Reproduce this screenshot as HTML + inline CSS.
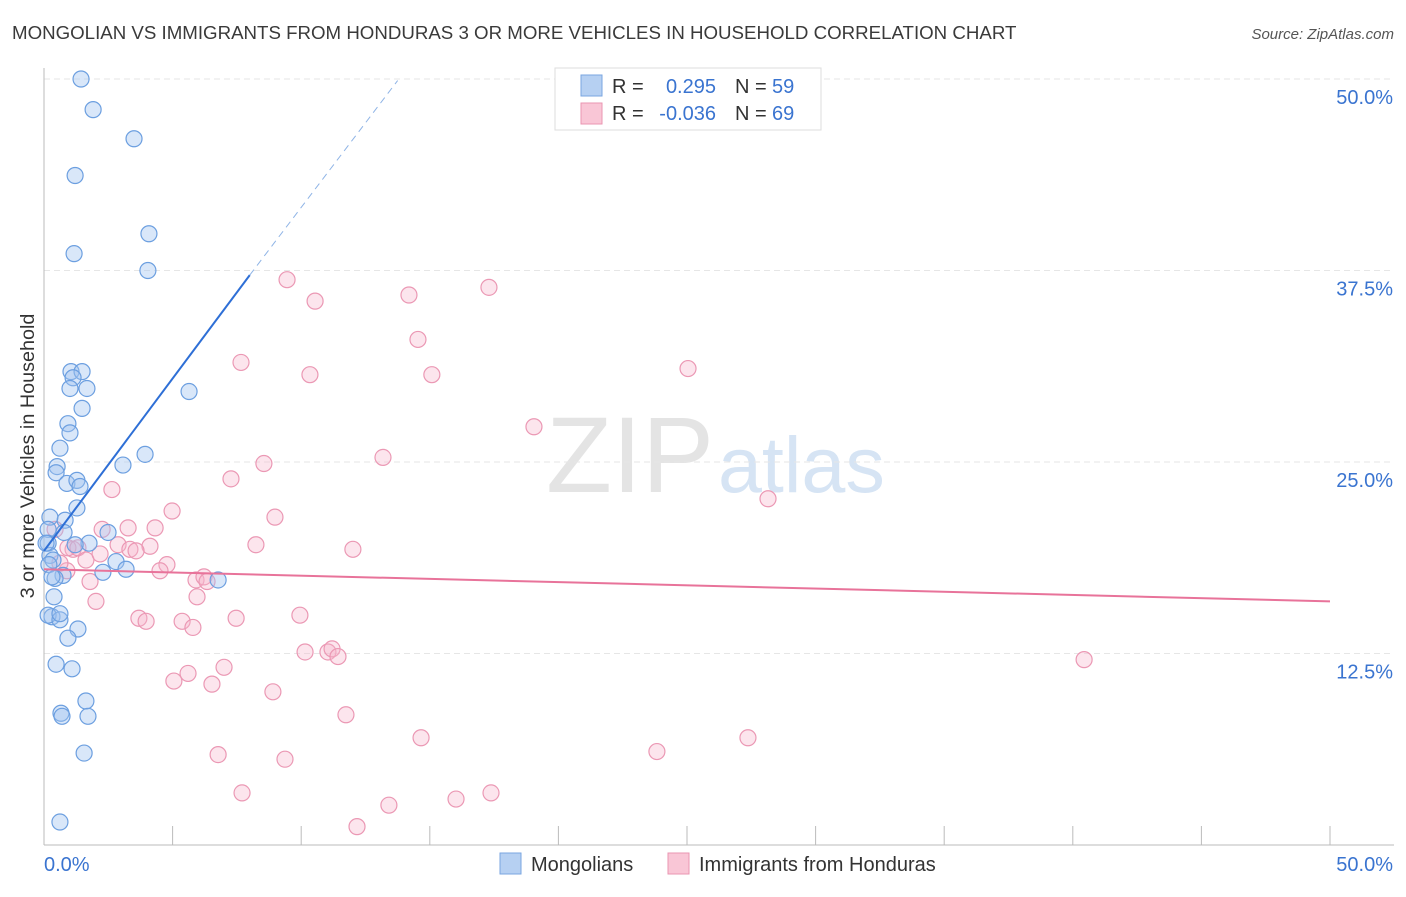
<!DOCTYPE html>
<html><head><meta charset="utf-8">
<style>
body{margin:0;background:#fff;font-family:"Liberation Sans",sans-serif;}
svg text{font-family:"Liberation Sans",sans-serif;}
</style></head>
<body>
<svg id="chart" width="1406" height="892">
<text x="12" y="39" font-size="18.7" fill="#3a3a3a">MONGOLIAN VS IMMIGRANTS FROM HONDURAS 3 OR MORE VEHICLES IN HOUSEHOLD CORRELATION CHART</text>
<text x="1394" y="39" font-size="15" fill="#555" font-style="italic" text-anchor="end">Source: ZipAtlas.com</text>
<text x="714" y="492" font-size="108" fill="#e4e4e4" text-anchor="end" font-family="Liberation Serif">ZIP</text>
<text x="718" y="492" font-size="79" fill="#d6e4f4">atlas</text>
<g id="grid"></g>
<g id="axes"></g>
<g id="marks"></g>
<text transform="translate(34,456) rotate(-90)" font-size="19.8" fill="#333" text-anchor="middle">3 or more Vehicles in Household</text>
<g>
<rect x="555" y="68" width="266" height="62" fill="#fff" stroke="#ddd"/>
<rect x="581" y="75" width="21" height="21" fill="#b6d0f2" stroke="#7aa6e0"/>
<rect x="581" y="103" width="21" height="21" fill="#f9c6d6" stroke="#ea95b1"/>
<text x="612" y="93" font-size="20" fill="#333">R =</text>
<text x="716" y="93" font-size="20" fill="#3a74d0" text-anchor="end">0.295</text>
<text x="735" y="93" font-size="20" fill="#333">N =</text>
<text x="772" y="93" font-size="20" fill="#3a74d0">59</text>
<text x="612" y="120" font-size="20" fill="#333">R =</text>
<text x="716" y="120" font-size="20" fill="#3a74d0" text-anchor="end">-0.036</text>
<text x="735" y="120" font-size="20" fill="#333">N =</text>
<text x="772" y="120" font-size="20" fill="#3a74d0">69</text>
</g>
<g>
<rect x="500" y="853" width="21" height="21" fill="#b6d0f2" stroke="#7aa6e0"/>
<text x="531" y="871" font-size="20" fill="#333">Mongolians</text>
<rect x="668" y="853" width="21" height="21" fill="#f9c6d6" stroke="#ea95b1"/>
<text x="699" y="871" font-size="20" fill="#333">Immigrants from Honduras</text>
</g>
</svg>
<script>
const xTicks=[0,5,10,15,20,25,30,35,40,45,50];
const yTicks=[12.5,25,37.5,50];
const yTickLabels=["12.5%","25.0%","37.5%","50.0%"];
const mongolX=[1.44,1.91,3.50,1.21,4.08,1.17,4.04,5.64,1.05,1.48,1.13,1.01,1.67,1.48,0.93,1.01,0.62,3.93,3.07,0.51,0.47,0.89,1.28,1.40,1.28,0.82,0.23,0.78,0.16,2.49,1.75,1.21,0.16,0.23,0.35,2.80,3.19,2.29,0.19,0.74,0.43,6.77,0.39,0.31,0.16,0.62,0.62,1.32,0.93,0.47,1.09,1.63,0.66,0.70,1.71,1.56,0.62,0.31,0.08];
const mongolY=[50.0,48.0,46.1,43.7,39.9,38.6,37.5,29.6,30.9,30.9,30.5,29.8,29.8,28.5,27.5,26.9,25.9,25.5,24.8,24.7,24.3,23.6,23.8,23.4,22.0,21.2,21.4,20.4,20.6,20.4,19.7,19.6,19.7,18.9,18.6,18.5,18.0,17.8,18.3,17.6,17.4,17.3,16.2,14.9,15.0,14.7,15.1,14.1,13.5,11.8,11.5,9.4,8.6,8.4,8.4,6.0,1.5,17.5,19.7];
const hondX=[9.45,17.30,10.54,14.19,14.54,7.66,10.34,15.08,25.04,19.05,13.18,8.55,7.27,28.15,2.64,4.98,8.98,2.26,3.27,4.32,12.01,8.24,4.12,2.88,3.34,3.58,1.13,0.93,1.32,1.63,4.78,4.51,5.91,6.22,6.34,1.79,0.89,5.95,2.02,9.95,3.69,3.97,5.37,7.47,5.79,10.15,11.04,11.20,11.43,7.00,5.60,5.05,6.53,8.90,40.44,11.74,14.66,23.83,27.37,6.77,9.37,7.70,17.38,16.02,13.41,12.17,0.62,0.43,2.18];
const hondY=[36.9,36.4,35.5,35.9,33.0,31.5,30.7,30.7,31.1,27.3,25.3,24.9,23.9,22.6,23.2,21.8,21.4,20.6,20.7,20.7,19.3,19.6,19.5,19.6,19.3,19.2,19.3,19.4,19.4,18.6,18.3,17.9,17.3,17.5,17.2,17.2,17.9,16.2,15.9,15.0,14.8,14.6,14.6,14.8,14.2,12.6,12.6,12.8,12.3,11.6,11.2,10.7,10.5,10.0,12.1,8.5,7.0,6.1,7.0,5.9,5.6,3.4,3.4,3.0,2.6,1.2,18.4,20.6,19.0];
const blueTrend=[[0,19.2],[8,37.2]], blueDash=[[8,37.2],[13.75,49.9]];
const pinkTrend=[[0,18.0],[50,15.9]];
const X=v=>44+v/50*1286, Y=v=>845-v/50*766;
const NS="http://www.w3.org/2000/svg";
function mk(tag,attrs,parent){const e=document.createElementNS(NS,tag);for(const k in attrs)e.setAttribute(k,attrs[k]);parent.appendChild(e);return e;}
const grid=document.getElementById('grid'),axes=document.getElementById('axes'),marks=document.getElementById('marks');
yTicks.forEach((t,i)=>{
 const l=mk('line',{x1:44,x2:1394,y1:Y(t),y2:Y(t),stroke:'#e6e6e6','stroke-dasharray':'6,4'},grid);
 
 
 const tx=mk('text',{x:1393,y:Y(t)+25,'font-size':20,fill:'#3a74d0','text-anchor':'end'},axes);
 tx.textContent=yTickLabels[i];
 
 
});
const ya=mk('line',{x1:44,x2:44,y1:68,y2:845,stroke:'#bbb'},axes);


const xa=mk('line',{x1:44,x2:1394,y1:845,y2:845,stroke:'#bbb'},axes);


xTicks.forEach(t=>{const l=mk('line',{x1:X(t),x2:X(t),y1:826,y2:845,stroke:'#bbb'},axes);
 
 });
[[0,'start',44],[50,'end',1393]].forEach(([v,a,x])=>{const tx=mk('text',{x:x,y:871,'font-size':20,fill:'#3a74d0','text-anchor':a},axes);tx.textContent=v.toFixed(1)+'%';
 
 });
hondX.forEach((v,i)=>{const c=mk('circle',{cx:X(v),cy:Y(hondY[i]),r:8,fill:'rgba(247,180,202,0.35)',stroke:'#eb98b4','stroke-width':1.2},marks);
 
 });
mongolX.forEach((v,i)=>{const c=mk('circle',{cx:X(v),cy:Y(mongolY[i]),r:8,fill:'rgba(160,195,240,0.4)',stroke:'#6c9fe0','stroke-width':1.2},marks);
 
 });
const bt=mk('line',{x1:X(blueTrend[0][0]),y1:Y(blueTrend[0][1]),x2:X(blueTrend[1][0]),y2:Y(blueTrend[1][1]),stroke:'#2e6fd6','stroke-width':2},marks);


const bd=mk('line',{x1:X(blueDash[0][0]),y1:Y(blueDash[0][1]),x2:X(blueDash[1][0]),y2:Y(blueDash[1][1]),stroke:'#8fb4e6','stroke-width':1,'stroke-dasharray':'7,5'},marks);


const pt=mk('line',{x1:X(pinkTrend[0][0]),y1:Y(pinkTrend[0][1]),x2:X(pinkTrend[1][0]),y2:Y(pinkTrend[1][1]),stroke:'#e8739a','stroke-width':2},marks);


</script>
</body></html>
